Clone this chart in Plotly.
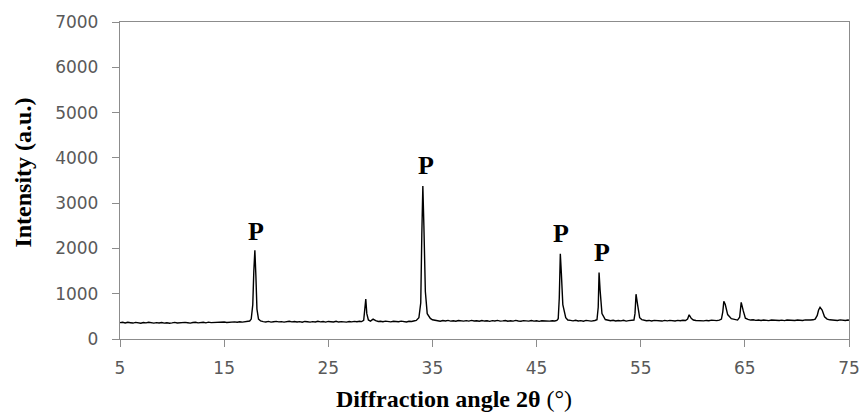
import plotly.graph_objects as go

two_theta = [5.0, 5.25, 5.5, 5.75, 6.0, 6.25, 6.5, 6.75, 7.0, 7.25, 7.5, 7.75, 8.0, 8.25, 8.5, 8.75,
             9.0, 9.25, 9.5, 9.75, 10.0, 10.25, 10.5, 10.75, 11.0, 11.25, 11.5, 11.75, 12.0, 12.25,
             12.5, 12.75, 13.0, 13.25, 13.5, 13.75, 14.0, 14.25, 14.5, 14.75, 15.0, 15.25, 15.5,
             15.75, 16.0, 16.25, 16.5, 16.75, 17.0, 17.25, 17.45, 17.6, 17.75, 17.85, 17.95,
             18.05, 18.15, 18.3, 18.5, 18.75, 19.0, 19.25, 19.5, 19.75, 20.0, 20.25, 20.5, 20.75,
             21.0, 21.25, 21.5, 21.75, 22.0, 22.25, 22.5, 22.75, 23.0, 23.25, 23.5, 23.75, 24.0,
             24.25, 24.5, 24.75, 25.0, 25.25, 25.5, 25.75, 26.0, 26.25, 26.5, 26.75, 27.0, 27.25,
             27.5, 27.75, 28.0, 28.2, 28.4, 28.52, 28.6, 28.7, 28.85, 29.05, 29.3, 29.55, 29.8,
             30.0, 30.25, 30.5, 30.75, 31.0, 31.25, 31.5, 31.75, 32.0, 32.25, 32.5, 32.75, 33.0,
             33.2, 33.45, 33.7, 33.88, 33.98, 34.08, 34.18, 34.32, 34.5, 34.8, 35.0, 35.25, 35.5,
             35.75, 36.0, 36.25, 36.5, 36.75, 37.0, 37.25, 37.5, 37.75, 38.0, 38.25, 38.5, 38.75,
             39.0, 39.25, 39.5, 39.75, 40.0, 40.25, 40.5, 40.75, 41.0, 41.25, 41.5, 41.75, 42.0,
             42.25, 42.5, 42.75, 43.0, 43.25, 43.5, 43.75, 44.0, 44.25, 44.5, 44.75, 45.0, 45.25,
             45.5, 45.75, 46.0, 46.25, 46.5, 46.75, 46.95, 47.08, 47.18, 47.28, 47.38, 47.52,
             47.8, 48.0, 48.25, 48.5, 48.75, 49.0, 49.25, 49.5, 49.75, 50.0, 50.25, 50.6, 50.8,
             50.92, 51.0, 51.1, 51.28, 51.6, 51.85, 52.1, 52.35, 52.6, 52.85, 53.1, 53.35, 53.6,
             53.85, 54.1, 54.35, 54.45, 54.55, 54.7, 54.9, 55.1, 55.3, 55.55, 55.8, 56.05, 56.3,
             56.55, 56.8, 57.05, 57.3, 57.55, 57.8, 58.05, 58.3, 58.55, 58.8, 59.05, 59.3, 59.5,
             59.65, 59.85, 60.05, 60.3, 60.55, 60.8, 61.05, 61.3, 61.55, 61.8, 62.05, 62.3, 62.55,
             62.75, 62.88, 62.98, 63.12, 63.35, 63.7, 64.05, 64.3, 64.5, 64.65, 64.85, 65.05, 65.3,
             65.55, 65.8, 66.05, 66.3, 66.55, 66.8, 67.05, 67.3, 67.55, 67.8, 68.05, 68.3, 68.55,
             68.8, 69.05, 69.3, 69.55, 69.8, 70.05, 70.3, 70.55, 70.8, 71.05, 71.3, 71.55, 71.75,
             71.95, 72.08, 72.22, 72.42, 72.65, 72.9, 73.15, 73.4, 73.65, 73.9, 74.15, 74.4,
             74.65, 74.9, 75.0]

intensity = [362, 370, 355, 368, 360, 352, 366, 358, 349, 364, 356, 368, 357, 350, 362, 355,
             365, 351, 360, 348, 356, 366, 354, 361, 352, 367, 358, 350, 364, 370,
             356, 362, 368, 357, 372, 362, 366, 358, 372, 364, 376, 366, 372,
             362, 378, 370, 382, 372, 378, 386, 398, 440, 760, 1500, 1960,
             1380, 660, 440, 398, 384, 376, 388, 372, 382, 390, 378, 384, 372,
             380, 392, 378, 386, 374, 384, 370, 388, 382, 372, 384, 376, 390,
             378, 385, 372, 388, 380, 376, 390, 374, 384, 380, 372, 386, 378,
             390, 380, 392, 385, 410, 620, 880, 560, 420, 396, 440, 405, 388,
             392, 380, 394, 384, 378, 392, 386, 380, 394, 384, 376, 392, 386,
             398, 410, 470, 800, 2300, 3380, 2500, 1050, 560, 455, 425, 410, 400, 392,
             408, 398, 410, 396, 404, 392, 408, 400, 394, 406, 396, 410, 398,
             404, 392, 408, 396, 402, 390, 406, 398, 410, 394, 400, 408, 392,
             404, 396, 410, 398, 392, 406, 400, 394, 408, 396, 404, 390, 402,
             398, 406, 394, 404, 398, 412, 450, 900, 1880, 1450, 760, 470,
             420, 410, 400, 412, 398, 406, 394, 410, 400, 396, 408, 425, 700,
             1470, 1080, 560, 430, 410, 402, 414, 398, 408, 400, 412, 396, 406,
             404, 418, 560, 990, 760, 470, 428, 414, 404, 410, 398, 412, 402,
             408, 396, 410, 400, 412, 404, 398, 410, 402, 414, 408, 440, 535,
             455, 420, 410, 404, 414, 400, 410, 404, 416, 410, 406, 418, 440,
             600, 830, 760, 540, 450, 428, 418, 480, 810, 620, 460, 432, 418,
             424, 412, 418, 408, 420, 412, 406, 418, 412, 422, 410, 416, 406,
             420, 412, 418, 408, 420, 414, 410, 422, 412, 418, 424, 440, 520,
             640, 700, 640, 490, 440, 424, 414, 420, 410, 422, 414, 408,
             420, 412, 416]

label_x = [18.1, 34.4, 47.3, 51.3]
label_y = [2370, 3840, 2340, 1900]
label_text = ["P", "P", "P", "P"]

x_ticks = [5, 15, 25, 35, 45, 55, 65, 75]
y_ticks = [0, 1000, 2000, 3000, 4000, 5000, 6000, 7000]

x_title = "<b>Diffraction angle 2θ</b> (°)"
y_title = "<b>Intensity (a.u.)</b>"

fig = go.Figure()
fig.add_trace(go.Scatter(x=two_theta, y=intensity, mode="lines",
                         line=dict(color="black", width=1.4), showlegend=False))

for lx, ly, lt in zip(label_x, label_y, label_text):
    fig.add_annotation(x=lx, y=ly, text="<b>" + lt + "</b>", showarrow=False,
                       font=dict(family="Liberation Serif", size=26, color="black"))

fig.add_annotation(xref="paper", yref="paper", x=0.458, y=-0.189, xanchor="center",
                   yanchor="middle", text=x_title, showarrow=False,
                   font=dict(family="Liberation Serif", size=24, color="black"))
fig.add_annotation(xref="paper", yref="paper", x=-0.133, y=0.525, xanchor="center",
                   yanchor="middle", text=y_title, showarrow=False, textangle=-90,
                   font=dict(family="Liberation Serif", size=24, color="black"))

axis_common = dict(showline=True, linecolor="#8c8c8c", linewidth=1.3, mirror=True,
                   ticks="outside", ticklen=7, tickcolor="#8c8c8c", showgrid=False,
                   zeroline=False, automargin=False,
                   tickfont=dict(family="DejaVu Sans", size=17, color="#595959"))

fig.update_xaxes(range=[5, 75], tickvals=x_ticks, ticklabelstandoff=6, **axis_common)
fig.update_yaxes(range=[0, 7000], tickvals=y_ticks, ticklabelstandoff=10, **axis_common)

fig.update_layout(width=864, height=415, margin=dict(l=120, r=15, t=22, b=76),
                  plot_bgcolor="white", paper_bgcolor="white")

fig.write_html("out.html")
